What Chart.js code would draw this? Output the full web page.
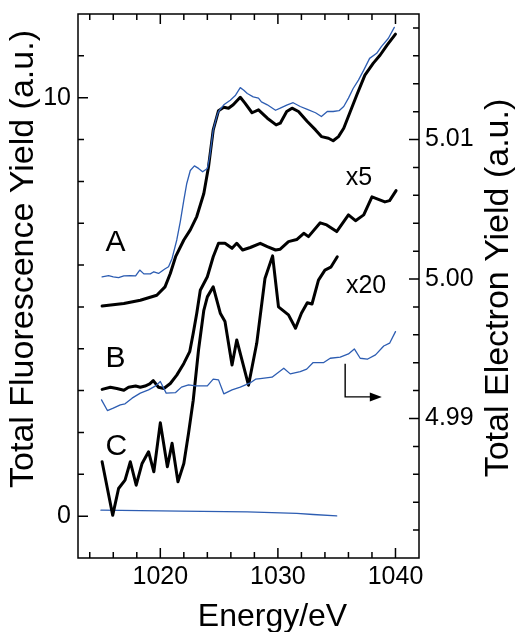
<!DOCTYPE html>
<html>
<head>
<meta charset="utf-8">
<script src="https://cdn.jsdelivr.net/npm/chart.js@4.4.1/dist/chart.umd.min.js"></script>
<style>
html,body{margin:0;padding:0;background:#fff;}
canvas{display:block;}
</style>
</head>
<body>
<canvas id="c" width="517" height="632" style="width:517px;height:632px"></canvas>
<script>
// ---------------- data ----------------
const aBlueEnergy = [1015.05,1015.6,1016.0,1016.45,1016.9,1017.45,1017.9,1018.25,1018.6,1019.15,1019.45,1019.85,1020.35,1020.7,1021.0,1021.4,1021.7,1022.0,1022.25,1022.55,1022.9,1023.25,1023.6,1024.0,1024.2,1024.5,1024.8,1024.95,1025.4,1025.95,1026.4,1026.8,1027.1,1027.4,1027.9,1028.35,1028.6,1029.1,1029.8,1030.2,1030.8,1031.3,1031.9,1032.5,1033.2,1033.7,1034.2,1034.7,1035.2,1035.6,1036.0,1036.4,1036.85,1037.3,1037.8,1038.4,1038.8,1039.4,1039.9];
const aBlueYield = [5.72,5.75,5.72,5.70,5.74,5.75,5.74,5.88,5.79,5.79,5.84,5.80,5.90,5.96,6.16,6.60,7.04,7.55,7.95,8.26,8.37,8.31,8.23,8.31,8.59,9.23,9.55,9.67,9.83,9.94,10.06,10.24,10.18,10.10,10.02,9.99,9.90,9.83,9.70,9.75,9.83,9.88,9.79,9.72,9.64,9.55,9.67,9.67,9.69,9.79,9.99,10.22,10.42,10.66,10.94,11.06,11.22,11.42,11.68];

const aBlackEnergy = [1015.05,1016.9,1018.3,1019.7,1020.4,1020.85,1021.3,1022.0,1022.55,1023.1,1023.7,1024.1,1024.5,1024.95,1025.4,1025.8,1026.2,1026.8,1027.2,1027.8,1028.35,1029.1,1029.85,1030.2,1030.75,1031.2,1031.75,1032.5,1033.2,1033.7,1034.3,1034.7,1035.15,1035.6,1036.1,1036.7,1037.4,1038.1,1038.7,1039.3,1040.0];
const aBlackYield = [5.02,5.08,5.16,5.28,5.48,5.80,6.20,6.60,6.84,7.16,7.71,8.35,9.23,9.69,9.77,9.75,9.83,10.01,9.87,9.64,9.71,9.51,9.35,9.39,9.67,9.75,9.67,9.43,9.23,9.07,9.03,8.97,9.07,9.27,9.63,10.06,10.54,10.82,11.02,11.26,11.52];

const bBlackEnergy = [1015.05,1015.75,1016.3,1016.9,1017.3,1017.9,1018.3,1018.7,1019.1,1019.4,1019.85,1020.3,1020.85,1021.4,1022.0,1022.5,1022.8,1023.1,1023.4,1024.0,1024.5,1024.95,1025.5,1026.1,1026.5,1027.0,1027.65,1028.5,1029.1,1029.8,1030.2,1030.9,1031.6,1032.2,1032.6,1033.6,1034.15,1035.0,1036.0,1036.6,1037.3,1038.0,1039.1,1039.5,1040.05];
const bBlackYield = [3.03,3.08,3.05,3.01,3.08,3.11,3.08,3.11,3.16,3.24,3.08,3.05,3.17,3.37,3.65,3.93,4.37,4.85,5.40,5.72,6.20,6.52,6.52,6.40,6.52,6.36,6.42,6.52,6.44,6.36,6.38,6.56,6.61,6.76,6.68,7.01,6.96,6.80,7.20,7.06,7.20,7.63,7.51,7.54,7.78];

const cBlackEnergy = [1015.05,1015.95,1016.45,1017.0,1017.45,1017.95,1018.45,1019.0,1019.45,1020.0,1020.6,1021.0,1021.5,1022.0,1022.4,1022.8,1023.25,1023.7,1024.0,1024.5,1025.1,1025.5,1026.1,1026.5,1027.5,1028.2,1028.9,1029.55,1030.05,1030.9,1031.5,1032.0,1032.5,1032.9,1033.45,1034.0,1034.5,1035.05];
const cBlackYield = [1.30,0.02,0.66,0.86,1.30,0.74,1.26,1.54,1.06,2.23,1.18,1.74,0.82,1.26,1.98,2.77,3.97,4.92,5.24,5.48,4.85,4.65,3.61,4.21,3.13,4.13,5.68,6.22,5.00,4.81,4.49,4.85,5.10,5.07,5.64,5.88,5.95,6.20];

// total electron yield of B (right axis)
const bBlueEnergy = [1015.0,1015.5,1016.0,1016.6,1017.0,1017.6,1018.3,1019.0,1019.6,1020.0,1020.5,1021.3,1021.8,1022.4,1023.0,1024.0,1024.5,1024.95,1025.4,1026.1,1026.8,1027.6,1028.1,1028.5,1029.5,1030.5,1031.05,1031.9,1032.45,1033.0,1033.9,1034.45,1035.3,1036.0,1036.5,1037.0,1037.6,1038.3,1039.0,1039.5,1040.0];
const bBlueTEY = [4.99134,4.99057,4.99074,4.99098,4.99105,4.99146,4.99182,4.99205,4.99234,4.99265,4.99182,4.99186,4.99225,4.99241,4.99234,4.99234,4.99282,4.99277,4.99177,4.99205,4.99225,4.99253,4.99282,4.99286,4.99296,4.99361,4.99320,4.99336,4.99354,4.99401,4.99401,4.99432,4.99440,4.99463,4.99499,4.99432,4.99425,4.99456,4.99520,4.99540,4.99623];

const cBlueEnergy = [1014.95,1021.7,1027.4,1031.6,1033.0,1035.0];
const cBlueYield = [0.143,0.12,0.10,0.065,0.04,0.007];

// tick labels
const xTickLabels = [1020, 1030, 1040];
const yTickLabels = [0, 10];
const y2TickLabels = [4.99, 5.00, 5.01];

// curve labels
const curveLabelText = ['A', 'B', 'C', 'x5', 'x20'];
const curveLabelEnergy = [1016.18, 1016.18, 1016.26, 1036.9, 1037.5];
const curveLabelYield = [6.53, 3.75, 1.65, 8.08, 5.50];

// ---------------- styling / layout ----------------
const FONT = '"Liberation Sans", Arial, Helvetica, sans-serif';
const BLUE = '#2d5db2';
const MINOR_LEN = 6, MAJOR_LEN = 10;

function pts(xs, ys) {
  const n = Math.min(xs.length, ys.length);
  const out = [];
  for (let i = 0; i < n; i++) out.push({x: xs[i], y: ys[i]});
  return out;
}

function line(label, xs, ys, color, width, axis) {
  return {
    label, data: pts(xs, ys), borderColor: color, backgroundColor: color,
    borderWidth: width, pointRadius: 0, tension: 0, fill: false,
    borderJoinStyle: 'round', borderCapStyle: 'round', yAxisID: axis || 'y'
  };
}

const frameTicks = {
  id: 'frameTicks',
  afterDatasetsDraw(chart) {
    const {ctx, chartArea: a} = chart;
    const sx = chart.scales.x, sy = chart.scales.y, sy2 = chart.scales.y2;
    const isMajor = (v, arr) => arr.some(m => Math.abs(m - v) < 1e-7);
    ctx.save();
    ctx.strokeStyle = '#000';
    ctx.lineWidth = 1.5;
    ctx.strokeRect(a.left, a.top, a.right - a.left, a.bottom - a.top);
    ctx.beginPath();
    // x ticks (every 2 eV), bottom and top
    for (let k = Math.ceil(sx.min / 2); k * 2 <= sx.max; k++) {
      const v = k * 2, p = sx.getPixelForValue(v);
      if (p <= a.left + 1 || p >= a.right - 1) continue;
      const L = isMajor(v, xTickLabels) ? MAJOR_LEN : MINOR_LEN;
      ctx.moveTo(p, a.bottom); ctx.lineTo(p, a.bottom - L);
      ctx.moveTo(p, a.top); ctx.lineTo(p, a.top + L);
    }
    // left ticks (every 1)
    for (let k = Math.ceil(sy.min); k <= sy.max; k++) {
      const p = sy.getPixelForValue(k);
      if (p <= a.top + 1 || p >= a.bottom - 1) continue;
      const L = isMajor(k, yTickLabels) ? MAJOR_LEN : MINOR_LEN;
      ctx.moveTo(a.left, p); ctx.lineTo(a.left + L, p);
    }
    // right ticks (every 0.002)
    for (let k = Math.ceil(sy2.min / 0.002 - 1e-6); k * 0.002 <= sy2.max + 1e-9; k++) {
      const v = k * 0.002, p = sy2.getPixelForValue(v);
      if (p <= a.top + 1 || p >= a.bottom - 1) continue;
      const L = isMajor(v, y2TickLabels) ? MAJOR_LEN : MINOR_LEN;
      ctx.moveTo(a.right, p); ctx.lineTo(a.right - L, p);
    }
    ctx.stroke();

    // curve labels
    ctx.fillStyle = '#000';
    ctx.textAlign = 'center';
    ctx.textBaseline = 'middle';
    for (let i = 0; i < curveLabelText.length; i++) {
      const t = curveLabelText[i];
      ctx.font = (t.length === 1 ? '30px ' : '25px ') + FONT;
      ctx.fillText(t, sx.getPixelForValue(curveLabelEnergy[i]), sy.getPixelForValue(curveLabelYield[i]));
    }

    // arrow pointing to right axis
    const ax = sx.getPixelForValue(1035.72), ay0 = sy.getPixelForValue(3.64), ay1 = sy.getPixelForValue(2.85);
    const ax1 = sx.getPixelForValue(1038.84);
    ctx.lineWidth = 1.4;
    ctx.beginPath();
    ctx.moveTo(ax, ay0); ctx.lineTo(ax, ay1); ctx.lineTo(ax1 - 10, ay1);
    ctx.stroke();
    ctx.beginPath();
    ctx.moveTo(ax1, ay1); ctx.lineTo(ax1 - 12, ay1 - 4.5); ctx.lineTo(ax1 - 12, ay1 + 4.5); ctx.closePath();
    ctx.fill();

    // axis titles
    const o = chart.options.scales;
    ctx.textBaseline = 'alphabetic';
    ctx.font = '32px ' + FONT;
    ctx.fillText(o.x.title.text, 272.5, 626);
    ctx.font = '34px ' + FONT;
    ctx.save(); ctx.translate(33, 259); ctx.rotate(-Math.PI / 2);
    ctx.fillText(o.y.title.text, 0, 0); ctx.restore();
    ctx.save(); ctx.translate(508, 288); ctx.rotate(-Math.PI / 2);
    ctx.fillText(o.y2.title.text, 0, 0); ctx.restore();
    ctx.restore();
  }
};

const tickFont = {family: FONT, size: 25};
const noPad = s => { s.paddingTop = 0; s.paddingBottom = 0; s.paddingLeft = 0; s.paddingRight = 0; };

new Chart(document.getElementById('c'), {
  type: 'line',
  data: {
    datasets: [
      line('A (blue)', aBlueEnergy, aBlueYield, BLUE, 1.3),
      line('A', aBlackEnergy, aBlackYield, '#000', 3),
      line('B TEY', bBlueEnergy, bBlueTEY, BLUE, 1.3, 'y2'),
      line('B x5', bBlackEnergy, bBlackYield, '#000', 3),
      line('C x20', cBlackEnergy, cBlackYield, '#000', 3),
      line('C (blue)', cBlueEnergy, cBlueYield, BLUE, 1.3)
    ]
  },
  options: {
    responsive: false,
    animation: false,
    events: [],
    layout: {padding: {top: 14, left: 0, right: 0, bottom: 0}},
    plugins: {legend: {display: false}, tooltip: {enabled: false}, title: {display: false}},
    scales: {
      x: {
        type: 'linear', position: 'bottom', min: 1013, max: 1042,
        grid: {display: false, drawTicks: false}, border: {display: false},
        title: {display: false, text: 'Energy/eV'},
        afterBuildTicks: s => { s.ticks = xTickLabels.map(v => ({value: v})); },
        afterFit: s => { s.height = 74; noPad(s); },
        ticks: {font: tickFont, color: '#000', padding: 4, maxRotation: 0, autoSkip: false, callback: v => String(v)}
      },
      y: {
        type: 'linear', position: 'left', min: -1, max: 12,
        grid: {display: false, drawTicks: false}, border: {display: false},
        title: {display: false, text: 'Total Fluorescence Yield (a.u.)'},
        afterBuildTicks: s => { s.ticks = yTickLabels.map(v => ({value: v})); },
        afterFit: s => { s.width = 78; noPad(s); },
        ticks: {font: tickFont, color: '#000', padding: 7, autoSkip: false, callback: v => String(v)}
      },
      y2: {
        type: 'linear', position: 'right', min: 4.98, max: 5.019,
        grid: {display: false, drawTicks: false}, border: {display: false},
        title: {display: false, text: 'Total Electron Yield (a.u.)'},
        afterBuildTicks: s => { s.ticks = y2TickLabels.map(v => ({value: v})); },
        afterFit: s => { s.width = 98; noPad(s); },
        ticks: {font: tickFont, color: '#000', padding: 6, autoSkip: false, callback: v => Number(v).toFixed(2)}
      }
    }
  },
  plugins: [frameTicks]
});
</script>
</body>
</html>
